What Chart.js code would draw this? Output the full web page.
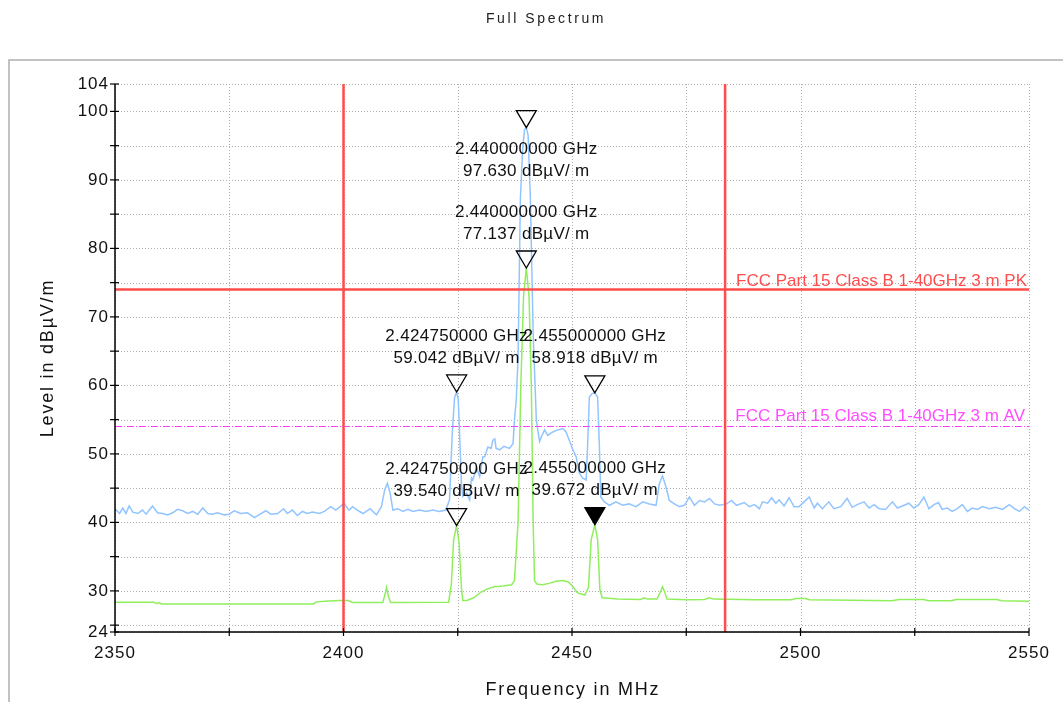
<!DOCTYPE html>
<html>
<head>
<meta charset="utf-8">
<script src="https://cdn.jsdelivr.net/npm/chart.js@4.4.1/dist/chart.umd.min.js"></script>
<style>
  body { margin: 0; background: #fff; }
  canvas { display: block; }
</style>
</head>
<body>
<canvas id="myChart" width="1063" height="702"></canvas>
<script>
"use strict"

// Titel und Achsen
const chartTitle = 'Full Spectrum'
const xTitle = 'Frequency in MHz'
const yTitle = 'Level in dBµV/m'
const xTicks = [2350, 2375, 2400, 2425, 2450, 2475, 2500, 2525, 2550]
const xLabels = [2350, 2400, 2450, 2500, 2550]
const yTicks = [24, 25, 30, 35, 40, 45, 50, 55, 60, 65, 70, 75, 80, 85, 90, 95, 100, 104]
const yLabels = [24, 30, 40, 50, 60, 70, 80, 90, 100, 104]

// Peak-Messung (blau), Frequenz in MHz / Pegel in dBµV/m
const peakFreq = [2350, 2351, 2351.7, 2352.4, 2353.1, 2353.9, 2355, 2356, 2356.8, 2358.2,
  2359.3, 2360.4, 2361.5, 2362.6, 2363.7, 2364.8, 2365.9, 2367, 2368.1, 2369.2,
  2370.3, 2371.3, 2372.4, 2373.9, 2375, 2376.1, 2377.5, 2379, 2380.5, 2381.5,
  2383, 2384.1, 2385.6, 2386.9, 2387.7, 2388.8, 2389.9, 2391, 2392.1, 2393.2,
  2394.7, 2395.8, 2397.2, 2398.3, 2399.3, 2400.1, 2401.2, 2402, 2403, 2404.3,
  2405.8, 2407.2, 2408.3, 2409, 2409.6, 2410.2, 2410.8, 2411.9, 2413, 2414.1,
  2415.2, 2416.6, 2418.1, 2419.5, 2421, 2422.4, 2423.2, 2423.8, 2424.3, 2424.75,
  2425.1, 2425.4, 2425.8, 2426.1, 2426.9, 2427.6, 2428, 2428.3, 2429.1, 2429.8,
  2430.5, 2430.9, 2431.6, 2432.3, 2432.7, 2433.1, 2433.4, 2434.2, 2435.1, 2436.3,
  2437.1, 2437.4, 2437.8, 2438.2, 2438.7, 2439.2, 2439.6, 2440, 2440.4, 2440.9,
  2441.5, 2442.2, 2442.9, 2443.3, 2444, 2444.7, 2445.8, 2446.9, 2448, 2448.7,
  2449.4, 2450.2, 2450.9, 2451.6, 2452.3, 2453.1, 2453.4, 2453.8, 2454.4, 2455,
  2455.6, 2456, 2456.3, 2457.1, 2458.2, 2459.6, 2461.1, 2462.5, 2464, 2465.5,
  2466.9, 2468.4, 2469.1, 2469.8, 2470.6, 2471.3, 2472.4, 2473.5, 2474.6, 2475.7,
  2476.8, 2477.9, 2479, 2480.1, 2481.2, 2482.3, 2483.8, 2484.9, 2486, 2487.7,
  2488.8, 2489.9, 2491, 2491.7, 2492.8, 2493.7, 2494.6, 2495.3, 2496.4, 2497.5,
  2498.6, 2499.7, 2500.8, 2501.9, 2503, 2503.7, 2504.8, 2506.2, 2507.3, 2508.8,
  2510.2, 2511.3, 2512.4, 2513.9, 2515, 2516.1, 2517.2, 2518.6, 2520.1, 2521.2,
  2522.3, 2523.7, 2524.8, 2525.9, 2527, 2528.1, 2529.2, 2530.2, 2531, 2532.1,
  2533.2, 2534.3, 2535.4, 2536.5, 2537.6, 2538.7, 2539.8, 2541.3, 2542.7, 2544.2,
  2545.7, 2546.8, 2547.9, 2549, 2550]
const peakLevel = [42.0, 41.3, 42.1, 41.3, 42.4, 41.5, 41.3, 41.8, 41.2, 42.4,
  41.4, 41.3, 41.1, 41.4, 41.9, 41.7, 41.3, 41.6, 41.2, 42.1,
  41.3, 41.2, 41.4, 41.1, 41.2, 41.7, 41.3, 41.4, 40.7, 41.1,
  41.7, 41.2, 41.3, 42.0, 41.3, 41.8, 41.0, 41.6, 41.3, 41.5,
  41.3, 41.6, 42.3, 41.8, 42.3, 42.8, 41.8, 42.3, 41.8, 41.3,
  42.0, 41.1, 42.3, 44.7, 45.7, 44.3, 41.8, 42.0, 41.6, 41.9,
  41.6, 41.8, 41.6, 41.8, 41.6, 41.8, 43.3, 53.0, 58.2, 59.042,
  58.0, 53.0, 45.7, 43.8, 44.3, 43.3, 46.5, 46.2, 48.0, 46.7,
  49.6, 49.6, 51.0, 50.8, 52.0, 52.2, 50.8, 50.6, 51.1, 50.8,
  51.5, 54.9, 57.9, 64.0, 87.1, 94.5, 97.3, 97.63, 96.5, 87.1,
  67.6, 54.9, 51.8, 52.5, 53.5, 52.7, 53.2, 53.5, 53.7, 53.2,
  52.0, 50.6, 49.6, 47.2, 46.5, 46.2, 51.0, 58.3, 58.8, 58.918,
  58.3, 51.0, 43.7, 43.0, 42.5, 43.0, 42.5, 42.7, 42.3, 43.0,
  42.7, 42.5, 45.6, 46.8, 45.1, 43.2, 42.7, 42.3, 42.5, 43.7,
  42.5, 43.2, 43.0, 43.5, 42.7, 42.5, 42.7, 43.2, 42.5, 42.9,
  42.3, 42.6, 42.0, 43.0, 42.8, 43.6, 42.8, 43.3, 42.4, 43.6,
  42.3, 42.3, 43.0, 43.7, 42.1, 42.8, 42.0, 43.0, 42.0, 42.3,
  43.5, 42.2, 42.6, 43.0, 42.1, 42.6, 42.0, 41.9, 43.0, 42.1,
  42.4, 42.8, 42.1, 42.6, 43.7, 42.0, 42.6, 42.9, 41.9, 42.1,
  41.6, 42.0, 42.6, 41.6, 42.1, 41.9, 42.3, 42.0, 42.2, 41.9,
  42.6, 42.0, 41.6, 42.3, 41.8]

// Average-Messung (gruen)
const avgFreq = [2350, 2358.5, 2359.2, 2359.6, 2360.2, 2393.5, 2394, 2396, 2399, 2401,
  2402, 2408.6, 2409.1, 2409.4, 2409.8, 2410.3, 2423, 2423.6, 2424.1, 2424.75,
  2425.3, 2425.8, 2426.1, 2427, 2428.5, 2430, 2431.5, 2433, 2435, 2436.8,
  2437.4, 2438.2, 2438.8, 2439.4, 2440, 2440.6, 2441.1, 2441.5, 2441.8, 2442.3,
  2443.5, 2445, 2446.5, 2448, 2449.2, 2450.2, 2451.2, 2452.8, 2453.6, 2454.2,
  2455, 2455.6, 2456.1, 2456.6, 2460, 2465, 2465.8, 2466.5, 2468.6, 2469.3,
  2469.8, 2470.3, 2470.8, 2475, 2479, 2480, 2481, 2490, 2498, 2499,
  2501, 2502, 2520, 2521.5, 2527, 2528, 2533, 2534, 2543, 2544,
  2550]
const avgLevel = [28.35, 28.35, 28.15, 28.3, 28.1, 28.1, 28.4, 28.5, 28.6, 28.6,
  28.3, 28.3, 29.5, 30.5, 29.3, 28.3, 28.35, 31.0, 37.5, 39.54,
  37.0, 30.5, 28.6, 28.6, 29.0, 29.8, 30.3, 30.6, 30.7, 30.9,
  31.5, 40.0, 60.0, 73.0, 77.137, 73.0, 60.0, 40.0, 31.5, 31.0,
  30.9, 31.1, 31.4, 31.5, 31.3, 30.6, 29.7, 29.4, 30.5, 37.5,
  39.672, 37.5, 30.2, 29.0, 28.8, 28.75, 29.0, 28.8, 28.8, 29.8,
  30.6, 29.8, 28.8, 28.7, 28.75, 29.0, 28.8, 28.7, 28.7, 28.9,
  28.9, 28.7, 28.55, 28.75, 28.75, 28.55, 28.55, 28.75, 28.75, 28.55,
  28.5]

// Grenzwerte und Bandgrenzen
const limitPK = 74
const limitAV = 54
const limitPKText = 'FCC Part 15 Class B 1-40GHz 3 m PK'
const limitAVText = 'FCC Part 15 Class B 1-40GHz 3 m AV'
const bandEdges = [2400, 2483.5]

// Marker
const markerFreq = [2440, 2440, 2424.75, 2455, 2424.75, 2455]
const markerLevel = [97.63, 77.137, 59.042, 58.918, 39.54, 39.672]
const markerText = [
  ['2.440000000 GHz', '97.630 dBµV/ m'],
  ['2.440000000 GHz', '77.137 dBµV/ m'],
  ['2.424750000 GHz', '59.042 dBµV/ m'],
  ['2.455000000 GHz', '58.918 dBµV/ m'],
  ['2.424750000 GHz', '39.540 dBµV/ m'],
  ['2.455000000 GHz', '39.672 dBµV/ m']
]
const activeMarker = 5

const fontFam = '"Liberation Sans", Arial, sans-serif'

function toPoints(xs, ys) {
  return xs.map((x, i) => ({ x: x, y: ys[i] }))
}

// eigenes Plugin: Rahmen, Titel, Raster, Achsen, Marker
const decoPlugin = {
  id: 'deco',
  beforeDraw(chart) {
    const ctx = chart.ctx
    const a = chart.chartArea
    ctx.save()
    ctx.fillStyle = '#fff'
    ctx.fillRect(0, 0, chart.width, chart.height)
    ctx.strokeStyle = '#c2c2c2'
    ctx.lineWidth = 2
    ctx.strokeRect(9, 60, chart.width + 20, chart.height + 20)
    ctx.fillStyle = '#222'
    ctx.font = '14px ' + fontFam
    ctx.textAlign = 'center'
    ctx.textBaseline = 'middle'
    ctx.letterSpacing = '2.6px'
    ctx.fillText(chartTitle, 546, 19)
    // Achsentitel
    ctx.fillStyle = '#111'
    ctx.font = '18px ' + fontFam
    ctx.letterSpacing = '1.8px'
    ctx.fillText(xTitle, (a.left + a.right) / 2 + 1, 690)
    ctx.translate(48, (a.top + a.bottom) / 2)
    ctx.rotate(-Math.PI / 2)
    ctx.fillText(yTitle, 0, 0)
    ctx.restore()
    // Tick-Beschriftung etwas gesperrt
    ctx.letterSpacing = '1px'
  },
  beforeDatasetsDraw(chart) {
    const ctx = chart.ctx
    const a = chart.chartArea
    const xs = chart.scales.x, ys = chart.scales.y
    ctx.save()
    ctx.strokeStyle = '#b0b0b0'
    ctx.lineWidth = 1
    ctx.setLineDash([1, 2])
    xTicks.forEach(v => {
      const px = Math.round(xs.getPixelForValue(v)) + 0.5
      ctx.beginPath(); ctx.moveTo(px, a.top); ctx.lineTo(px, a.bottom); ctx.stroke()
    })
    yTicks.forEach(v => {
      const py = Math.round(ys.getPixelForValue(v)) + 0.5
      ctx.beginPath(); ctx.moveTo(a.left, py); ctx.lineTo(a.right, py); ctx.stroke()
    })
    ctx.restore()
  },
  afterDatasetsDraw(chart) {
    const ctx = chart.ctx
    const a = chart.chartArea
    const xs = chart.scales.x, ys = chart.scales.y
    ctx.save()
    // Achsen
    ctx.strokeStyle = '#000'
    ctx.lineWidth = 1.5
    ctx.beginPath()
    ctx.moveTo(a.left, a.top); ctx.lineTo(a.left, a.bottom); ctx.lineTo(a.right, a.bottom)
    ctx.stroke()
    ctx.lineWidth = 1.2
    yTicks.forEach(v => {
      const py = ys.getPixelForValue(v)
      ctx.beginPath(); ctx.moveTo(a.left - 5, py); ctx.lineTo(a.left + 4, py); ctx.stroke()
    })
    xTicks.forEach(v => {
      const px = xs.getPixelForValue(v)
      ctx.beginPath(); ctx.moveTo(px, a.bottom - 4); ctx.lineTo(px, a.bottom + 4); ctx.stroke()
    })

    // Grenzwert-Beschriftung
    ctx.letterSpacing = '0px'
    ctx.font = '17px ' + fontFam
    ctx.textAlign = 'right'
    ctx.textBaseline = 'alphabetic'
    ctx.fillStyle = '#ff4d4d'
    ctx.fillText(limitPKText, a.right - 2, ys.getPixelForValue(limitPK) - 4)
    ctx.fillStyle = '#ff4dff'
    ctx.fillText(limitAVText, a.right - 4, ys.getPixelForValue(limitAV) - 6)

    // Marker (Dreiecke) und Texte
    ctx.letterSpacing = '0.3px'
    ctx.textAlign = 'center'
    ctx.textBaseline = 'middle'
    ctx.lineWidth = 1.3
    for (let i = 0; i < markerFreq.length; i++) {
      const px = xs.getPixelForValue(markerFreq[i])
      const py = ys.getPixelForValue(markerLevel[i])
      ctx.beginPath()
      ctx.moveTo(px, py)
      ctx.lineTo(px - 10, py - 17)
      ctx.lineTo(px + 10, py - 17)
      ctx.closePath()
      ctx.strokeStyle = '#000'
      if (i === activeMarker) {
        ctx.fillStyle = '#000'
        ctx.fill()
      }
      ctx.stroke()
      let y1 = py - 56
      if (y1 - 10 < a.top) y1 = py + 22 // kein Platz oben -> unter das Dreieck
      ctx.fillStyle = '#111'
      ctx.fillText(markerText[i][0], px, y1)
      ctx.fillText(markerText[i][1], px, y1 + 22)
    }
    ctx.restore()
  }
}

const config = {
  type: 'line',
  data: {
    datasets: [
      { data: [{ x: bandEdges[0], y: 24 }, { x: bandEdges[0], y: 104 }], borderColor: '#ff4d4d', borderWidth: 2.5, order: 0 },
      { data: [{ x: bandEdges[1], y: 24 }, { x: bandEdges[1], y: 104 }], borderColor: '#ff4d4d', borderWidth: 2.5, order: 0 },
      { data: [{ x: 2350, y: limitPK }, { x: 2550, y: limitPK }], borderColor: '#ff4d4d', borderWidth: 2.5, order: 0 },
      { data: [{ x: 2350, y: limitAV }, { x: 2550, y: limitAV }], borderColor: '#ff40ff', borderWidth: 1, borderDash: [7, 2, 1, 2], order: 0 },
      { data: toPoints(avgFreq, avgLevel), borderColor: '#90ee5c', borderWidth: 1.5, order: 1 },
      { data: toPoints(peakFreq, peakLevel), borderColor: '#92c5ff', borderWidth: 1.5, order: 2 }
    ]
  },
  options: {
    responsive: false,
    animation: false,
    layout: { padding: { top: 84, right: 34, left: 0, bottom: 0 } },
    elements: { point: { radius: 0 }, line: { tension: 0 } },
    plugins: { legend: { display: false }, tooltip: { enabled: false } },
    scales: {
      x: {
        type: 'linear', min: 2350, max: 2550,
        afterFit: s => { s.height = 70 },
        afterBuildTicks: s => { s.ticks = xTicks.map(v => ({ value: v })) },
        grid: { display: false, drawTicks: false },
        border: { display: false },
        ticks: {
          autoSkip: false, maxRotation: 0, padding: 11, color: '#111',
          font: { family: fontFam, size: 17 },
          callback: v => xLabels.includes(v) ? String(v) : ''
        }
      },
      y: {
        type: 'linear', min: 24, max: 104,
        afterFit: s => { s.width = 115 },
        afterBuildTicks: s => { s.ticks = yTicks.map(v => ({ value: v })) },
        grid: { display: false, drawTicks: false },
        border: { display: false },
        ticks: {
          autoSkip: false, padding: 6, color: '#111',
          font: { family: fontFam, size: 17 },
          callback: v => yLabels.includes(v) ? String(v) : ''
        }
      }
    }
  },
  plugins: [decoPlugin]
}

new Chart(document.getElementById('myChart'), config)
</script>
</body>
</html>
